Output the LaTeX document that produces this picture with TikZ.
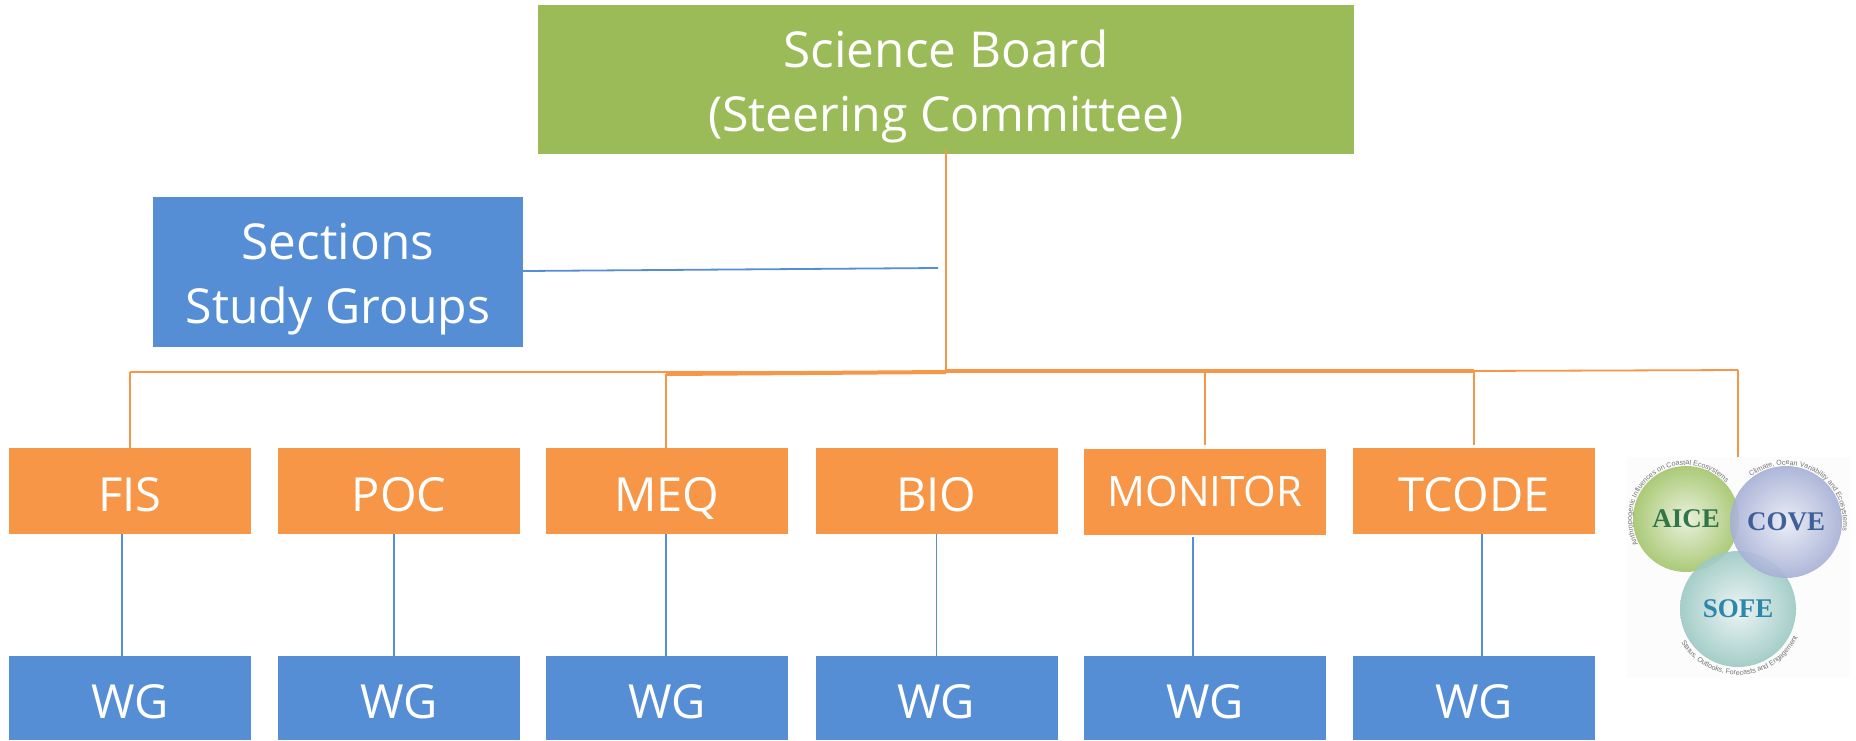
\documentclass[tikz,border=0pt]{standalone}
\usepackage{fontspec}
\setmainfont{Open Sans}
\newfontfamily\logofont{Liberation Serif}
\newfontfamily\logosmall{Liberation Sans}
\usetikzlibrary{decorations.text}
\definecolor{boardgreen}{HTML}{9BBB59}
\definecolor{wgblue}{HTML}{558ED5}
\definecolor{grouporange}{HTML}{F79646}
\definecolor{aiceball}{HTML}{A3C56A}
\definecolor{coveball}{HTML}{A6B0D6}
\definecolor{sofeball}{HTML}{9CC9C3}
\definecolor{aicetext}{HTML}{1F6A3C}
\definecolor{covetext}{HTML}{2F5391}
\definecolor{sofetext}{HTML}{1B7DA5}
\newcommand{\secondline}{\fontsize{48.2}{64}\selectfont}
\tikzset{
  x=1pt,y=1pt,
  boxbase/.style={inner sep=0pt,outer sep=0pt,text=white,align=center},
  twoline/.style={boxbase,font=\fontsize{49.5}{64}\selectfont},
  oneline/.style={boxbase,font=\fontsize{47}{50}\selectfont,text height=40pt,text depth=0pt},
  boardbox/.style={twoline,fill=boardgreen,minimum width=816pt,minimum height=149pt},
  sectionbox/.style={twoline,fill=wgblue,minimum width=370pt,minimum height=150pt},
  orangebox/.style={oneline,fill=grouporange,minimum width=242pt,minimum height=86pt},
  wgbox/.style={oneline,fill=wgblue,minimum width=242pt,minimum height=84pt},
  busthin/.style={draw=grouporange,line width=1.8pt},
  busthick/.style={draw=grouporange,line width=4pt},
  bluelink/.style={draw=wgblue,line width=1.8pt},
  ball/.style={circle,inner sep=0pt,opacity=.9,font=\logofont\bfseries\fontsize{27}{27}\selectfont},
  ringtext/.style={decorate,decoration={text along path,text align=center,
     text={|\logosmall\fontsize{7.1}{8}\selectfont\color{black!55}|#1}}},
}
\begin{document}
\begin{tikzpicture}
\useasboundingbox (0,0) rectangle (1856,-740);
% boxes
\node[boardbox] (board) at (946,-79.5) {\rule{0pt}{52pt}Science Board\\{\secondline (Steering Committee)}};
\node[sectionbox] (sections) at (338,-271.5) {\rule{0pt}{52pt}Sections\\{\secondline Study Groups}};
\node[orangebox] (fis) at (130,-491) {FIS};
\node[orangebox] (poc) at (399,-491) {POC};
\node[orangebox] (meq) at (667,-491) {MEQ};
\node[orangebox] (bio) at (936.5,-491) {BIO};
\node[orangebox,font=\fontsize{42}{50}\selectfont,text height=29pt] (monitor) at (1205,-491.5) {MONITOR};
\node[orangebox] (tcode) at (1474,-491) {TCODE};
\node[wgbox] (wg1) at (130,-698) {WG};
\node[wgbox] (wg2) at (399,-698) {WG};
\node[wgbox] (wg3) at (667,-698) {WG};
\node[wgbox] (wg4) at (936.5,-698) {WG};
\node[wgbox] (wg5) at (1205,-698) {WG};
\node[wgbox] (wg6) at (1474,-698) {WG};
% free ends of connectors
\coordinate (sectionend) at (938,-268);
\coordinate (hub) at (946,-372);
\coordinate (busleft) at (130,-372);
\coordinate (busmeq) at (666,-374);
\coordinate (hubtop) at (946,-371);
\coordinate (busmon) at (1205,-372);
\coordinate (bustc) at (1474,-371);
\coordinate (busright) at (1738,-370);
\coordinate (monend) at (1205,-445);
\coordinate (tcend) at (1474,-445);
\coordinate (logoend) at (1738,-457);
% connectors
\draw[busthin] ([yshift=4pt]board.south) -- (hub);
\draw[bluelink] (sections.east |- 0,-271) -- (sectionend);
\draw[busthin] (busleft) -- (hub);
\draw[busthick] (busmeq) -- (hub);
\draw[busthick] (hubtop) -- (bustc);
\draw[busthin] (bustc) -- (busright);
\draw[busthin] (busleft) -- (busleft |- fis.north);
\draw[busthin] (busmeq) -- (busmeq |- meq.north);
\draw[busthin] (busmon) -- (monend);
\draw[busthin] (bustc) -- (tcend);
\draw[busthin] (busright) -- (logoend);
\draw[bluelink] ([xshift=-8pt]fis.south) -- ([xshift=-8pt]wg1.north);
\draw[bluelink] ([xshift=-5pt]poc.south) -- ([xshift=-5pt]wg2.north);
\draw[bluelink] ([xshift=-1pt]meq.south) -- ([xshift=-1pt]wg3.north);
\draw[bluelink] (bio.south) -- (wg4.north);
\draw[bluelink] ([xshift=-12pt,yshift=-2.5pt]monitor.south) -- ([xshift=-12pt]wg5.north);
\draw[bluelink] ([xshift=8pt]tcode.south) -- ([xshift=8pt]wg6.north);
% logo
\fill[black!1] (1627,-457) rectangle (1850,-678);
\node[ball,minimum size=106pt,shade,inner color=aiceball!25!white,outer color=aiceball,text=aicetext] (aice) at (1686,-519) {AICE};
\node[ball,minimum size=116pt,shade,inner color=sofeball!20!white,outer color=sofeball,text=sofetext] (sofe) at (1738,-609) {SOFE};
\node[ball,minimum size=112pt,shade,inner color=coveball!25!white,outer color=coveball,text=covetext] (cove) at (1786,-522) {COVE};
\path[shift={(aice.center)},ringtext={Anthropogenic Influences on Coastal Ecosystems}] (215:54) arc[start angle=215,end angle=35,radius=54];
\path[shift={(cove.center)},ringtext={Climate, Ocean Variability and Ecosystems}] (136:57) arc[start angle=136,end angle=-17,radius=57];
\path[shift={(sofe.center)},ringtext={Status, Outlooks, Forecasts and Engagement}] (202:66) arc[start angle=202,end angle=343,radius=66];
\end{tikzpicture}
\end{document}
